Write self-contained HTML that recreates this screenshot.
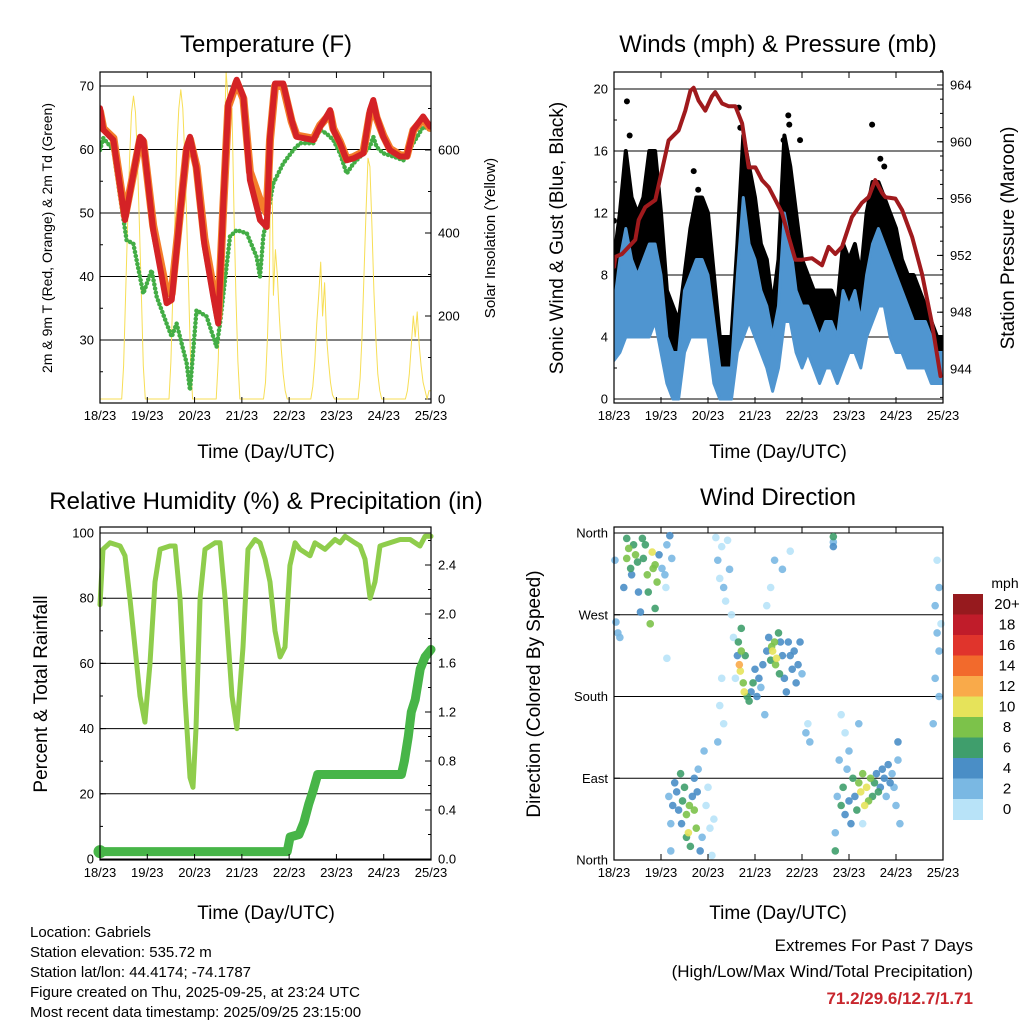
<!DOCTYPE html>
<html><head><meta charset="utf-8"><title>Station Meteogram</title>
<style>
html,body{margin:0;padding:0;background:#fff;}
svg{display:block;font-family:"Liberation Sans",Arial,sans-serif;}
</style></head>
<body>
<svg id="chart" xmlns="http://www.w3.org/2000/svg" width="1024" height="1024" viewBox="0 0 1024 1024">
<rect x="0" y="0" width="1024" height="1024" fill="#fff"/>
<g id="p1"></g>
<g id="p2"></g>
<g id="p3"></g>
<g id="p4"></g>

<text x="266" y="52" font-size="24" text-anchor="middle">Temperature (F)</text>
<text x="778" y="52" font-size="24" text-anchor="middle">Winds (mph) &amp; Pressure (mb)</text>
<text x="266" y="509" font-size="24" text-anchor="middle">Relative Humidity (%) &amp; Precipitation (in)</text>
<text x="778" y="505" font-size="24" text-anchor="middle">Wind Direction</text>

<text x="266" y="458" font-size="19" text-anchor="middle">Time (Day/UTC)</text>
<text x="778" y="458" font-size="19" text-anchor="middle">Time (Day/UTC)</text>
<text x="266" y="919" font-size="19" text-anchor="middle">Time (Day/UTC)</text>
<text x="778" y="919" font-size="19" text-anchor="middle">Time (Day/UTC)</text>

<text transform="translate(52,238) rotate(-90)" font-size="14" text-anchor="middle">2m &amp; 9m T (Red, Orange) &amp; 2m Td (Green)</text>
<text transform="translate(495,238) rotate(-90)" font-size="15" text-anchor="middle">Solar Insolation (Yellow)</text>
<text transform="translate(563,238) rotate(-90)" font-size="19" text-anchor="middle">Sonic Wind &amp; Gust (Blue, Black)</text>
<text transform="translate(1014,238) rotate(-90)" font-size="19" text-anchor="middle">Station Pressure (Maroon)</text>
<text transform="translate(47,694) rotate(-90)" font-size="19" text-anchor="middle">Percent &amp; Total Rainfall</text>
<text transform="translate(540,694) rotate(-90)" font-size="19" text-anchor="middle">Direction (Colored By Speed)</text>

<g id="colorbar"></g>
<text x="1005" y="588" font-size="14" text-anchor="middle">mph</text>

<g font-size="15">
<text x="30" y="937">Location: Gabriels</text>
<text x="30" y="957">Station elevation: 535.72 m</text>
<text x="30" y="977">Station lat/lon: 44.4174; -74.1787</text>
<text x="30" y="997">Figure created on Thu, 2025-09-25, at 23:24 UTC</text>
<text x="30" y="1017">Most recent data timestamp: 2025/09/25 23:15:00</text>
</g>
<text x="973" y="951" font-size="17" text-anchor="end">Extremes For Past 7 Days</text>
<text x="973" y="977" font-size="17" text-anchor="end">(High/Low/Max Wind/Total Precipitation)</text>
<text x="973" y="1004" font-size="17" font-weight="bold" fill="#c8262d" text-anchor="end">71.2/29.6/12.7/1.71</text>
</svg>

<script>
// ---------------- DATA ----------------
const dayLabels = ["18/23","19/23","20/23","21/23","22/23","23/23","24/23","25/23"];

const tempHours = [0,1.7,6.8,12.7,20.3,22,27,33.8,36.4,44,45.7,49,53,57.5,60,62.6,65.1,69.4,72.8,76.1,81.2,84.6,86.3,88.8,93,97.3,99.8,108.3,111.7,115,116.8,118.4,121.8,125.2,128.6,133.7,137,138.7,140.4,143.8,147.2,152.3,155.7,159,164,167.5];
const temp2m = [66.5,63.1,61.5,48.9,62.0,61.5,47.3,35.8,36.3,60.4,62.0,57,45,36.8,32.6,51.5,67.3,71.0,68.3,55.2,48.9,47.8,62.0,70.4,70.4,64.6,62.0,61.5,63.6,65.2,66.2,63.1,61.0,58.3,58.6,59.4,66.2,67.8,65.2,62.0,59.9,58.9,58.9,63.1,65.2,63.6];
const temp9m = [66.0,63.3,61.8,49.5,61.5,61.2,48.0,37.5,37.3,60.0,61.6,57.3,46,38.0,33.5,51.0,66.8,70.6,68.0,56.5,52.0,50.0,61.5,70.0,70.0,64.4,62.2,61.7,63.8,65.0,65.8,63.3,61.2,58.5,58.8,59.6,65.6,67.2,65.0,62.2,60.1,59.1,59.0,63.0,64.8,63.4];
const dewHours = [0,1.7,6.8,10.2,13.5,16.9,22,26.2,28.8,33.8,36.4,38.9,44,45.7,49,54.1,59.2,60.9,66,69.4,74.5,79.5,81.2,82.9,88,93,98.1,101.5,108.3,111.7,115,118.4,121.8,125.2,128.6,133.7,137,138.7,140.4,143.8,148.9,154,159,164.1,167.5];
const dew2m = [59.9,61.8,59.9,52.6,45.7,45.2,37.3,41.0,36.8,32.6,30.5,32.6,26.3,22.1,34.7,33.7,28.9,32.6,46.3,47.3,46.8,43.1,40.0,46.3,54.7,57.8,59.9,61.0,61.0,63.1,62.5,61.5,59.4,56.2,57.8,59.4,60.4,62.0,60.4,59.4,58.9,58.3,61.0,63.6,63.1];
const solar = [
0,0,0,0,0,0,0,0,0,0,0, 0,80,250,420,580,690,730,690,580,420,250,80,0,
0,0,0,0,0,0,0,0,0,0,0, 0,90,260,430,600,700,745,700,590,430,260,90,0,
0,0,0,0,0,0,0,0,0,0,0, 0,90,270,440,600,790,720,640,700,450,250,90,0,
0,0,0,0,0,0,0,0,0,0,0, 0,40,150,300,690,250,360,300,200,120,60,20,0,
0,0,0,0,0,0,0,0,0,0,0, 0,30,90,180,250,330,200,280,150,90,40,10,0,
0,0,0,0,0,0,0,0,0,0,0, 0,50,150,300,450,580,560,420,260,150,60,20,0,
0,0,0,0,0,0,0,0,0,0,0, 0,20,60,130,200,150,210,130,80,40,20,0,20,
20];

const windHours = [0,3,6,9,12,15,18,21,24,27,30,33,36,39,42,45,48,51,54,57,60,63,66,69,72,75,78,81,84,87,90,93,96,99,102,105,108,111,114,117,120,123,126,129,132,135,138,141,144,147,150,153,156,159,162,165,168];
const windLow  = [2.5,3,4,4,4,4,4,5,3, 1,0,0,3,4,4,4,4, 1,0,0,0,3,4,5,4, 3,2,0.5,2,5,5,3,2, 3,2,1,2,2,1,2,3, 3,2,4,5,6,6,4,3, 3,2,2,2,2,1,1,1];
const windHigh = [6,9,11,9,8,9,10,10,8, 4,3,3,7,8,9,9,8, 5,2,2,2,8,13,10,9, 7,6,4,6,12,10,7,6, 6,5,4,5,5,4,7,6, 7,5,8,10,11,10,9,8, 7,6,5,5,5,4,3,3];
const gustLow  = [4,6,8,7,6,7,8,9,6, 3,2,2,5,6,8,8,8, 3,0.5,1,1,5,8,8,7, 5,4,2,4,8,8,6,4, 4,4,3,4,3,3,4,5, 5,4,6,8,9,9,8,6, 5,4,4,3,3,2,2,2];
const gustHigh = [9,12,16,13,12,13,16,16,12, 7,6,5,8,11,13,13,12, 8,4,4,4,10,17,15,13, 10,9,6,9,17,15,12,9, 8,7,7,7,7,6,10,9, 10,8,12,14,14,13,12,11, 9,8,8,7,6,5,4,4];
const gustDotHours = [0,6.6,8,40.7,43,63.7,64.5,86.6,89,89.5,95,131.8,136,138];
const gustDotVals  = [11.5,19.2,17,14.7,13.5,18.8,17.5,16.7,18.3,17.7,16.7,17.7,15.5,15];
const presHours = [0,0.7,4.1,7.5,10.9,12.6,16,21.1,24.5,27.9,33,36.4,39,40.7,43.2,46.6,50,51.7,55.2,58.6,62,65.4,68.8,72.2,75.6,79,82.4,85.8,89.2,92.6,96,101.1,106.2,109.6,113,116.4,121.5,126.6,130,133.4,136.9,138.6,143.7,147.1,152.2,157.3,162.4,166.7];
const presVals = [951.2,951.9,952.1,952.6,953.1,954.5,955.4,955.9,958.0,960.1, 960.8,962.2,963.6,963.8,962.9,962.2,963.2,963.5,962.7,962.5, 962.5,961.3,958.2,958.2,957.3,956.8,955.9,955.0,953.3,951.7, 951.7,951.8,951.3,952.6,952.1,952.6,954.7,955.7,956.1,957.3, 956.4,956.1,956.0,955.2,953.3,950.7,947.2,943.5];

const rhHours = [0,1.5,5.1,10.2,12.7,15.2,20.3,22.8,25.4,27.9,30.5,35.5,38.1,40.6,43.1,45.7,47.2,48.7,50.8,53.3,58.4,60.9,63.5,67,69.5,72.6,75.1,78.7,81.2,83.8,86.3,88.8,91.4,93.9,96.4,99,101.5,106.6,109.1,114.2,119.3,121.8,124.4,129.4,132,134.5,137.1,139.6,142.1,147.2,152.3,157.4,162.4,165,168];
const rhVals = [78,95,97,96,93,80,50,42,60,85,95,96,96,80,50,25,22,40,80,95,97,97,80,50,40,65,95,98,97,92,85,70,62,65,90,97,95,93,97,95,98,97,99,97,96,92,80,85,96,97,98,98,96,99,99];
const precipHours = [0,95,96.5,101,103.5,106,108,110.5,153,154.5,156.5,158,160,162.5,165,168];
const precipVals = [0.06,0.06,0.18,0.2,0.3,0.45,0.55,0.69,0.69,0.8,1.0,1.2,1.3,1.55,1.65,1.71];

const dirHours = [0.5,1,2,3,5,6.5,6.5,7.5,8.5,9,10,11,12,12.5,13.5,14.5,15,16,17,17.5,18.5,19.5,20,21,22,21,23,24.5,26,27,28.5,29.5,27,26.5,
28,29,29,30,31,32,33,34,34.5,35,36,37,37,38,38.5,39,40,41,41,42,42.5,43,44,45,46,47,48,49,50,51,
52,53,54,55,56,57,58,59,60,61,55,56,54,53,
62,63,63.5,64,64.5,65,65,66,66.5,67,68,69,70,71,72,73,74,75,76,77,78,79,80,80.5,81,82,82.5,83,84,84.5,85,86,87,88,89,90,91,92,93,94,95,96,82,80,86,78,90,98,99,100,
112,112,112,
113,113,114,115,116,117,118,119,120,121,122,123,124,125,126,127,128,129,130,131,132,133,134,135,136,137,138,139,140,141,142,143,144,145,146,145,118,116,120,125,127,
165,166,164,166,167,165,164,166,163];
const dirVals = [330,262,250,245,300,354,332,343,321,314,347,336,328,295,273,354,332,347,314,295,260,339,321,325,306,277,336,321,314,347,357,332,222,300,
70,40,10,60,85,75,55,95,40,65,80,50,25,30,60,15,70,90,55,35,75,100,10,25,120,60,80,35,5,45,
355,330,310,345,300,285,352,320,270,245,200,150,170,130,
200,225,240,215,208,230,255,195,185,225,180,175,185,195,210,180,200,190,215,160,230,245,220,235,230,240,215,222,250,205,240,225,200,185,240,225,210,230,195,215,240,205,330,300,320,280,340,140,150,130,
356,350,345,
10,30,70,110,60,80,50,100,65,40,90,70,55,85,75,95,60,80,65,90,70,85,95,75,80,100,90,70,105,85,95,80,60,110,40,130,140,160,120,150,40,
250,230,280,300,260,330,200,180,150];
const dirSpeeds = [3,3,2,3,4,7,9,8,6,5,7,8,6,5,4,6,7,6,8,6,8,10,8,8,8,7,5,3,3,3,4,3,1,1,
3,2,2,4,4,4,4,6,4,6,6,8,6,10,8,6,4,4,8,8,4,3,4,3,2,1,1,1,1,1,
1,2,1,1,2,1,1,2,1,1,1,1,1,2,
1,4,6,12,10,8,6,8,10,6,6,6,4,6,4,4,4,2,4,2,4,4,6,8,10,8,8,10,6,6,4,4,4,4,4,4,4,4,4,4,4,2,2,1,2,1,1,2,1,2,
6,3,4,
6,3,2,2,6,6,4,3,4,4,6,4,6,8,10,8,10,10,8,8,6,6,4,6,4,4,4,3,4,4,3,2,3,2,2,4,1,1,2,2,1,
3,2,3,2,1,1,3,2,2];

const cbLabels = ["0","2","4","6","8","10","12","14","16","18","20+"];
const cbColors = ["#b8e3f8","#7ab8e3","#4a8ec6","#3f9e6c","#7cc24a","#e6e35a","#f9aa4a","#f26a2c","#e0342c","#c01c2a","#961a1e"];

// ---------------- HELPERS ----------------
const NS = "http://www.w3.org/2000/svg";
function mk(tag, attrs, parent){
  const e = document.createElementNS(NS, tag);
  for (const k in attrs) e.setAttribute(k, attrs[k]);
  parent.appendChild(e);
  return e;
}
function linY(v0, y0, v1, y1){ return v => y0 + (v - v0) * (y1 - y0) / (v1 - v0); }
function drawFrame(g, P, name){
  const r = mk('rect', {x:P.x0, y:P.y0, width:P.x1-P.x0, height:P.y1-P.y0, fill:'none', stroke:'#000', 'stroke-width':1.2}, g);
  
  
}
function drawXAxis(g, P, name){
  const X = v => P.x0 + v * (P.x1 - P.x0) / 168;
  for (let i = 0; i < dayLabels.length; i++){
    const x = X(i*24);
    const tb = mk('line', {x1:x, x2:x, y1:P.y1, y2:P.y1-6, stroke:'#000', 'stroke-width':1}, g);
    
    
    const tt = mk('line', {x1:x, x2:x, y1:P.y0, y2:P.y0+6, stroke:'#000', 'stroke-width':1}, g);
    
    
    const t = mk('text', {x:x, y:P.y1+17, 'font-size':13, 'text-anchor':'middle'}, g);
    
    
    t.textContent = dayLabels[i];
  }
}
function drawYAxis(g, P, Y, majors, labels, minors, side, name, grid){
  const xe = side === 'left' ? P.x0 : P.x1;
  const dir = side === 'left' ? 1 : -1;
  minors.forEach(v => {
    const y = Y(v);
    const m = mk('line', {x1:xe, x2:xe+dir*3, y1:y, y2:y, stroke:'#000', 'stroke-width':1}, g);
    
    
  });
  majors.forEach((v, i) => {
    const y = Y(v);
    if (grid){
      const gl = mk('line', {x1:P.x0, x2:P.x1, y1:y, y2:y, stroke:'#000', 'stroke-width':1}, g);
      
      
    }
    const tk = mk('line', {x1:xe, x2:xe+dir*6, y1:y, y2:y, stroke:'#000', 'stroke-width':1}, g);
    
    
    const t = mk('text', {x: side==='left' ? xe-6 : xe+7, y:y+4.5, 'font-size':13, 'text-anchor': side==='left' ? 'end' : 'start'}, g);
    
    
    t.textContent = labels[i];
  });
}
function pts(hs, vs, X, Y){ return hs.map((h,i) => X(h).toFixed(1) + ',' + Y(vs[i]).toFixed(1)).join(' '); }
function band(hs, lo, hi, X, Y){
  const top = hs.map((h,i) => X(h).toFixed(1) + ',' + Y(hi[i]).toFixed(1));
  const bot = hs.map((h,i) => X(h).toFixed(1) + ',' + Y(lo[i]).toFixed(1)).reverse();
  return top.concat(bot).join(' ');
}
function range(a, b, s){ const r=[]; for(let v=a; v<=b+1e-9; v+=s) r.push(+v.toFixed(3)); return r; }

// ---------------- PANEL 1 ----------------
(function(){
  const g = document.getElementById('p1');
  const P = {x0:100, x1:431, y0:72, y1:403};
  const X = h => P.x0 + h * (P.x1 - P.x0) / 168;
  const YT = linY(70, 86, 30, 340);
  const YS = linY(0, 399, 600, 150);
  const clip = mk('clipPath', {id:'c1'}, g);
  mk('rect', {x:P.x0, y:P.y0, width:P.x1-P.x0, height:P.y1-P.y0}, clip);
  drawYAxis(g, P, YT, [30,40,50,60,70], ["30","40","50","60","70"], range(25,70,5), 'left', 'temp-axis', true);
  drawYAxis(g, P, YS, [0,200,400,600], ["0","200","400","600"], range(0,700,100), 'right', 'solar-axis', false);
  const d = mk('g', {'clip-path':'url(#c1)'}, g);
  const solarHours = solar.map((v,i) => i);
  const s = mk('polyline', {points: pts(solarHours, solar, X, YS), fill:'none', stroke:'#f7de55', 'stroke-width':1, 'stroke-linejoin':'round'}, d);
  
  
  const dw = mk('polyline', {points: pts(dewHours, dew2m, X, YT), fill:'none', stroke:'#43ad45', 'stroke-width':4.5, 'stroke-dasharray':'0.1 4', 'stroke-linejoin':'round', 'stroke-linecap':'round'}, d);
  
  
  const o = mk('polyline', {points: pts(tempHours, temp9m, X, YT), fill:'none', stroke:'#f47d2a', 'stroke-width':8, 'stroke-linejoin':'round', 'stroke-linecap':'round'}, d);
  
  
  const r = mk('polyline', {points: pts(tempHours, temp2m, X, YT), fill:'none', stroke:'#d42226', 'stroke-width':6, 'stroke-linejoin':'round', 'stroke-linecap':'round'}, d);
  
  
  drawFrame(g, P, 'temperature');
  drawXAxis(g, P, 'temperature');
})();

// ---------------- PANEL 2 ----------------
(function(){
  const g = document.getElementById('p2');
  const P = {x0:614, x1:943, y0:72, y1:403};
  const X = h => P.x0 + h * (P.x1 - P.x0) / 168;
  const YW = linY(0, 399, 20, 89);
  const YP = linY(944, 369, 964, 85);
  const clip = mk('clipPath', {id:'c2'}, g);
  mk('rect', {x:P.x0, y:P.y0, width:P.x1-P.x0, height:P.y1-P.y0}, clip);
  drawYAxis(g, P, YW, [0,4,8,12,16,20], ["0","4","8","12","16","20"], range(0,20,2), 'left', 'wind-axis', true);
  drawYAxis(g, P, YP, [944,948,952,956,960,964], ["944","948","952","956","960","964"], range(942,965,1), 'right', 'pressure-axis', false);
  const d = mk('g', {'clip-path':'url(#c2)'}, g);
  const gb = mk('polygon', {points: band(windHours, windHigh, gustHigh, X, YW), fill:'#000', stroke:'#000', 'stroke-width':4, 'stroke-linejoin':'round'}, d);
  
  
  gustDotHours.forEach((h,i) => {
    const c = mk('circle', {cx: X(h), cy: YW(gustDotVals[i]), r: 3, fill:'#000'}, d);
    
    
  });
  const wb = mk('polygon', {points: band(windHours, windLow, windHigh, X, YW), fill:'#4f95d0', stroke:'#4f95d0', 'stroke-width':3, 'stroke-linejoin':'round'}, d);
  
  
  const p = mk('polyline', {points: pts(presHours, presVals, X, YP), fill:'none', stroke:'#a01a1d', 'stroke-width':4, 'stroke-linejoin':'round', 'stroke-linecap':'round'}, d);
  
  
  drawFrame(g, P, 'winds');
  drawXAxis(g, P, 'winds');
})();

// ---------------- PANEL 3 ----------------
(function(){
  const g = document.getElementById('p3');
  const P = {x0:100, x1:431, y0:527, y1:860};
  const X = h => P.x0 + h * (P.x1 - P.x0) / 168;
  const YR = linY(0, 859, 100, 533);
  const YP = linY(0, 859, 2.4, 565);
  const clip = mk('clipPath', {id:'c3'}, g);
  mk('rect', {x:P.x0-8, y:P.y0, width:P.x1-P.x0+16, height:P.y1-P.y0+8}, clip);
  drawYAxis(g, P, YR, [0,20,40,60,80,100], ["0","20","40","60","80","100"], range(0,100,10), 'left', 'humidity-axis', true);
  drawYAxis(g, P, YP, [0,0.4,0.8,1.2,1.6,2.0,2.4], ["0.0","0.4","0.8","1.2","1.6","2.0","2.4"], range(0,2.6,0.2), 'right', 'precip-axis', false);
  const d = mk('g', {'clip-path':'url(#c3)'}, g);
  const rh = mk('polyline', {points: pts(rhHours, rhVals, X, YR), fill:'none', stroke:'#8fcd4c', 'stroke-width':5, 'stroke-linejoin':'round', 'stroke-linecap':'round'}, d);
  
  
  const pr = mk('polyline', {points: pts(precipHours, precipVals, X, YP), fill:'none', stroke:'#47b548', 'stroke-width':9, 'stroke-linejoin':'round', 'stroke-linecap':'round'}, d);
  
  
  const c = mk('circle', {cx: X(precipHours[0]), cy: YP(precipVals[0]), r: 6.5, fill:'#47b548'}, d);
  
  
  drawFrame(g, P, 'humidity');
  drawXAxis(g, P, 'humidity');
})();

// ---------------- PANEL 4 ----------------
(function(){
  const g = document.getElementById('p4');
  const P = {x0:614, x1:943, y0:527, y1:860};
  const X = h => P.x0 + h * (P.x1 - P.x0) / 168;
  const YD = linY(0, 860, 360, 533);
  drawYAxis(g, P, YD, [0,90,180,270,360], ["North","East","South","West","North"], [], 'left', 'direction-axis', true);
  const d = mk('g', {}, g);
  const order = dirHours.map((h,i) => i).sort((a,b) => dirSpeeds[a] - dirSpeeds[b]);
  order.forEach(i => {
    const ci = Math.min(cbColors.length - 1, Math.floor(dirSpeeds[i] / 2));
    const c = mk('circle', {cx: X(dirHours[i]), cy: YD(dirVals[i]), r: 3.8, fill: cbColors[ci], 'fill-opacity':0.9}, d);
    
    
  });
  drawFrame(g, P, 'direction');
  drawXAxis(g, P, 'direction');

  const cb = document.getElementById('colorbar');
  const h = 20.5, top = 594;
  for (let i = 0; i < cbColors.length; i++){
    const k = cbColors.length - 1 - i;
    const r = mk('rect', {x:953, y: top + i*h, width:30, height:h+0.5, fill: cbColors[k]}, cb);
    
    
    const t = mk('text', {x:1007, y: top + i*h + 15, 'font-size':15, 'text-anchor':'middle'}, cb);
    
    
    t.textContent = cbLabels[k];
  }
})();
</script>
</body></html>
